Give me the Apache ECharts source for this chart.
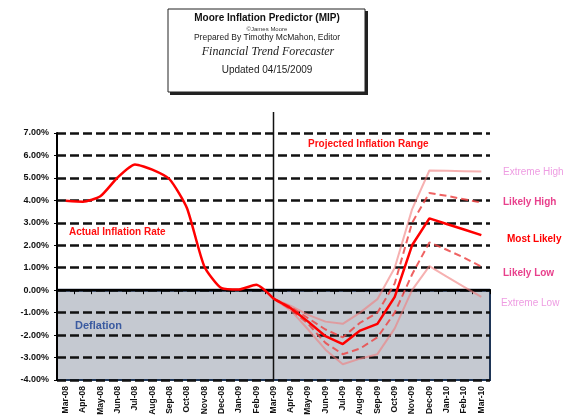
<!DOCTYPE html>
<html>
<head>
<meta charset="utf-8">
<script src="https://cdn.jsdelivr.net/npm/echarts@6/dist/echarts.min.js"></script>
<style>
html,body{margin:0;padding:0;background:#fff}
#c{width:574px;height:419px}
</style>
</head>
<body>
<div id="c"></div>
<script>
// Monthly categories, Mar-08 .. Mar-10
const months = ['Mar-08','Apr-08','May-08','Jun-08','Jul-08','Aug-08','Sep-08','Oct-08','Nov-08','Dec-08',
  'Jan-09','Feb-09','Mar-09','Apr-09','May-09','Jun-09','Jul-09','Aug-09','Sep-09','Oct-09','Nov-09',
  'Dec-09','Jan-10','Feb-10','Mar-10'];

// Actual annual inflation rate, Mar-08 .. Mar-09
const actual = [3.98, 3.94, 4.18, 5.02, 5.60, 5.37, 4.94, 3.66, 1.07, 0.09, 0.03, 0.24, -0.38];

// Projected ranges, Mar-09 .. Mar-10
const extremeHigh = [-0.38, -0.70, -1.10, -1.40, -1.50, -1.00, -0.40, 1.00, 3.60, 5.33, 5.32, 5.30, 5.28];
const likelyHigh  = [-0.38, -0.75, -1.25, -1.75, -2.10, -1.45, -1.00, 0.30, 3.00, 4.33, 4.20, 4.05, 3.90];
const mostLikely  = [-0.38, -0.80, -1.40, -2.05, -2.40, -1.80, -1.50, -0.30, 2.00, 3.20, 2.95, 2.70, 2.45];
const likelyLow   = [-0.38, -0.85, -1.50, -2.35, -2.85, -2.60, -2.10, -1.00, 0.70, 2.13, 1.80, 1.45, 1.05];
const extremeLow  = [-0.38, -0.90, -1.75, -2.65, -3.30, -3.05, -2.85, -1.70, 0.00, 1.07, 0.60, 0.15, -0.30];

const yMin = -4, yMax = 7, yStep = 1;
const splitMonth = 'Mar-09';

const startIdx = months.indexOf(splitMonth);
const padFront = arr => Array(startIdx).fill(null).concat(arr);
const padBack = arr => arr.concat(Array(months.length - arr.length).fill(null));

const sans = 'Liberation Sans, Arial, sans-serif';
const gridBox = {left: 57, right: 84, top: 133, bottom: 39};
const W = 574;

const chart = echarts.init(document.getElementById('c'), null, {renderer: 'canvas'});

function projLine(name, data, color, width, dashed) {
  return {
    name, type: 'line', data: padFront(data), z: 5,
    symbol: 'none', smooth: false,
    lineStyle: {color, width, type: dashed ? [7, 4] : 'solid'}
  };
}

const baseGraphic = [
  // header box with drop shadow
  {type: 'rect', shape: {x: 170, y: 11, width: 198, height: 84}, style: {fill: '#222'}, z: 10},
  {type: 'rect', shape: {x: 168, y: 9, width: 197, height: 83}, style: {fill: '#fff', stroke: '#222', lineWidth: 1}, z: 11},
  {type: 'text', x: 267, y: 18, z: 12, style: {text: 'Moore Inflation Predictor (MIP)', font: 'bold 10px ' + sans, fill: '#111', align: 'center', verticalAlign: 'middle'}},
  {type: 'text', x: 267, y: 29, z: 12, style: {text: '©James Moore', font: '6px ' + sans, fill: '#333', align: 'center', verticalAlign: 'middle'}},
  {type: 'text', x: 267, y: 38, z: 12, style: {text: 'Prepared By Timothy McMahon, Editor', font: '8.5px ' + sans, fill: '#222', align: 'center', verticalAlign: 'middle'}},
  {type: 'text', x: 268, y: 52, z: 12, style: {text: 'Financial Trend Forecaster', font: 'italic 12px "Liberation Serif", serif', fill: '#222', align: 'center', verticalAlign: 'middle'}},
  {type: 'text', x: 267, y: 70, z: 12, style: {text: 'Updated 04/15/2009', font: '10px ' + sans, fill: '#222', align: 'center', verticalAlign: 'middle'}},
  // annotations
  {type: 'text', x: 69, y: 232, z: 12, style: {text: 'Actual Inflation Rate', font: 'bold 10px ' + sans, fill: '#FF1010', verticalAlign: 'middle'}},
  {type: 'text', x: 308, y: 144, z: 12, style: {text: 'Projected Inflation Range', font: 'bold 10px ' + sans, fill: '#FF1010', verticalAlign: 'middle'}},
  {type: 'text', x: 75, y: 326, z: 12, style: {text: 'Deflation', font: 'bold 11px ' + sans, fill: '#3A5AA0', verticalAlign: 'middle'}},
  {type: 'text', x: 503, y: 172, z: 12, style: {text: 'Extreme High', font: '10px ' + sans, fill: '#EE9CE2', verticalAlign: 'middle'}},
  {type: 'text', x: 503, y: 202, z: 12, style: {text: 'Likely High', font: 'bold 10px ' + sans, fill: '#E8408C', verticalAlign: 'middle'}},
  {type: 'text', x: 507, y: 239, z: 12, style: {text: 'Most Likely', font: 'bold 10px ' + sans, fill: '#FF0000', verticalAlign: 'middle'}},
  {type: 'text', x: 503, y: 273, z: 12, style: {text: 'Likely Low', font: 'bold 10px ' + sans, fill: '#E8408C', verticalAlign: 'middle'}},
  {type: 'text', x: 501, y: 303, z: 12, style: {text: 'Extreme Low', font: '10px ' + sans, fill: '#EE9CE2', verticalAlign: 'middle'}}
];

const option = {
  animation: false,
  backgroundColor: '#ffffff',
  grid: gridBox,
  xAxis: {
    type: 'category', data: months, boundaryGap: true, z: 4,
    axisLine: {lineStyle: {color: '#000', width: 2}},
    axisTick: {show: true, length: 4, lineStyle: {color: '#000', width: 1}},
    axisLabel: {rotate: 90, interval: 0, color: '#111', fontSize: 8.5, fontWeight: 'bold', fontFamily: sans, margin: 6},
    splitLine: {show: false}
  },
  yAxis: {
    type: 'value', min: yMin, max: yMax, interval: yStep, z: 3,
    axisLine: {show: true, lineStyle: {color: '#000', width: 2}},
    axisTick: {show: true, length: 3, lineStyle: {color: '#000'}},
    axisLabel: {
      color: '#111', fontSize: 9, fontWeight: 'bold', fontFamily: sans, margin: 8,
      formatter: v => v.toFixed(2) + '%'
    },
    splitLine: {
      show: true,
      lineStyle: {color: '#111', width: 2.5, type: [9, 4]}
    }
  },
  series: [
    projLine('Extreme High', extremeHigh, 'rgba(240,125,125,0.6)', 2, false),
    projLine('Extreme Low', extremeLow, 'rgba(240,125,125,0.6)', 2, false),
    projLine('Likely High', likelyHigh, 'rgba(236,70,70,0.85)', 2, true),
    projLine('Likely Low', likelyLow, 'rgba(236,70,70,0.85)', 2, true),
    projLine('Most Likely', mostLikely, '#FF0000', 2.5, false),
    {
      name: 'Actual Inflation Rate', type: 'line', data: padBack(actual), z: 6,
      symbol: 'none', smooth: 0.2,
      lineStyle: {color: '#FF0000', width: 2.5}
    }
  ],
  graphic: baseGraphic
};

chart.setOption(option);

// deflation band (below zero) and the divider between actual and projected data
const splitX = chart.convertToPixel({xAxisIndex: 0}, splitMonth);
const zeroY = chart.convertToPixel({yAxisIndex: 0}, 0);
const bottomY = chart.convertToPixel({yAxisIndex: 0}, yMin);
const plotL = gridBox.left, plotR = W - gridBox.right;
chart.setOption({
  graphic: baseGraphic.concat([
    {
      type: 'rect', z: 1, silent: true,
      shape: {x: plotL, y: zeroY, width: plotR - plotL, height: bottomY - zeroY},
      style: {fill: '#C5C9D1', stroke: '#1E3556', lineWidth: 2}
    },
    {
      type: 'line', z: 2, silent: true,
      shape: {x1: plotL, y1: zeroY, x2: plotR, y2: zeroY},
      style: {stroke: '#1B2A44', lineWidth: 3}
    },
    {
      type: 'line', z: 4, silent: true,
      shape: {x1: splitX, y1: 112, x2: splitX, y2: bottomY},
      style: {stroke: '#111', lineWidth: 1.5}
    }
  ])
});
</script>
</body>
</html>
